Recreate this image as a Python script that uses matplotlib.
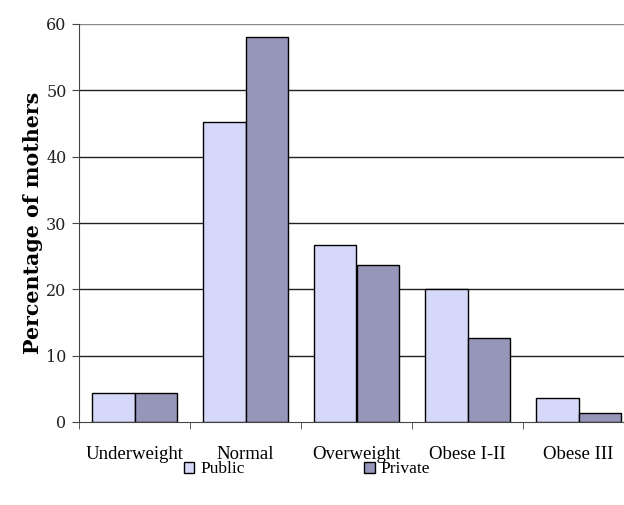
import matplotlib
matplotlib.use("Agg")
import matplotlib.pyplot as plt
import numpy as np

categories = ["Underweight", "Normal", "Overweight", "Obese I-II", "Obese III"]
public = [4.3, 45.2, 26.7, 20.0, 3.6]
private = [4.3, 58.0, 23.6, 12.6, 1.3]
y_ticks = [0, 10, 20, 30, 40, 50, 60]

fig = plt.figure(figsize=(6.24, 5.05), dpi=100)
ax = fig.add_axes([79 / 624, 83 / 505, 555 / 624, 398 / 505])

x = np.arange(len(categories))
w = 0.385
ax.bar(x - w / 2, public, w, color="#D6D8FA", edgecolor="black", linewidth=1.0,
       label="Public", zorder=3)
ax.bar(x + w / 2, private, w, color="#9696BA", edgecolor="black", linewidth=1.0,
       label="Private", zorder=3)

ax.set_xlim(-0.5, len(categories) - 0.5)
ax.set_ylim(0, 60)
ax.set_yticks(y_ticks)
ax.set_yticklabels([str(t) for t in y_ticks], fontsize=11.5, family="DejaVu Serif",
                   color="#222222")
for t in y_ticks[1:]:
    ax.axhline(t, color="#222222" if t < 60 else "#888888", linewidth=1.0, zorder=1)

ax.set_xticks(x)
ax.set_xticklabels(categories, fontsize=13.5, family="Liberation Serif")
ax.tick_params(axis="x", which="major", length=0, pad=17)
ax.set_xticks(np.arange(-0.5, len(categories), 1.0), minor=True)
ax.tick_params(axis="x", which="minor", length=5, direction="out", color="#444444")
ax.tick_params(axis="y", length=5, direction="out", color="#444444", pad=4)

for s in ["top", "right"]:
    ax.spines[s].set_visible(False)
ax.spines["left"].set_color("#444444")
ax.spines["bottom"].set_color("#444444")

ax.set_ylabel("Percentage of mothers", fontsize=14.8, fontweight="bold",
              family="DejaVu Serif", labelpad=2)

leg = fig.legend(loc="center", bbox_to_anchor=(0.492, 0.071), ncol=2, frameon=False,
                 prop={"family": "Liberation Serif", "size": 12.5},
                 handlelength=0.6, handleheight=0.6, handletextpad=0.35,
                 columnspacing=6.9)

fig.savefig("out.png", dpi=100)
